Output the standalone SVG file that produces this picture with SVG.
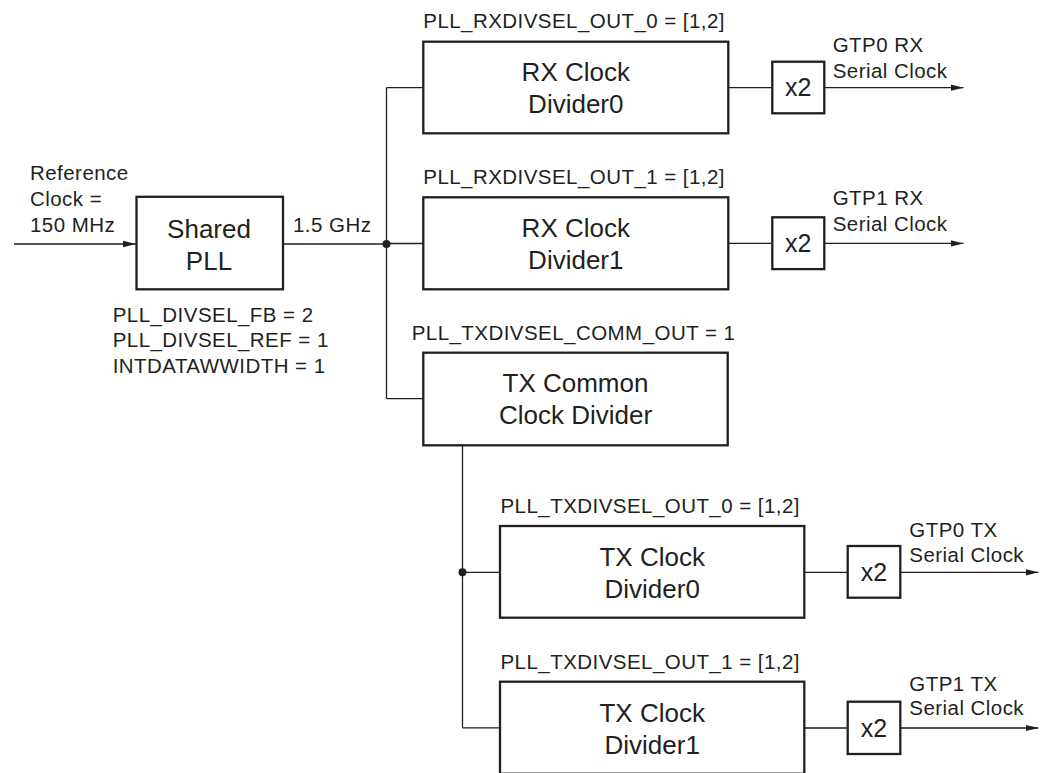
<svg xmlns="http://www.w3.org/2000/svg" width="1044" height="773" viewBox="0 0 1044 773">
<defs>
<style>
.box{fill:#fff;stroke:#231f20;stroke-width:2.3}
.ln{fill:none;stroke:#231f20;stroke-width:1.3}
.lbl{font-family:"Liberation Sans",Arial,sans-serif;font-size:20.5px;letter-spacing:0.45px;fill:#231f20}
.big{font-family:"Liberation Sans",Arial,sans-serif;font-size:26px;fill:#231f20;text-anchor:middle}
.mul{font-family:"Liberation Sans",Arial,sans-serif;font-size:25px;fill:#231f20;text-anchor:middle}
</style>
<marker id="arr" markerWidth="13" markerHeight="8" refX="13" refY="4" orient="auto" markerUnits="userSpaceOnUse">
<path d="M0,0.8 L13,4 L0,7.2 Z" fill="#231f20"/>
</marker>
</defs>
<rect width="1044" height="773" fill="#fff"/>

<g id="connectors">
<line class="ln" x1="14" y1="244" x2="136" y2="244" marker-end="url(#arr)"/>
<line class="ln" x1="283" y1="244" x2="386.5" y2="244"/>
<line class="ln" x1="386.5" y1="87.7" x2="386.5" y2="398.7"/>
<line class="ln" x1="386.5" y1="87.7" x2="423.3" y2="87.7"/>
<line class="ln" x1="386.5" y1="243.5" x2="423.3" y2="243.5"/>
<line class="ln" x1="386.5" y1="398.7" x2="423.3" y2="398.7"/>
<line class="ln" x1="728.3" y1="87.7" x2="772.3" y2="87.7"/>
<line class="ln" x1="824.3" y1="87.7" x2="963.5" y2="87.7" marker-end="url(#arr)"/>
<line class="ln" x1="728.3" y1="243.4" x2="772.3" y2="243.4"/>
<line class="ln" x1="824.3" y1="243.4" x2="963.5" y2="243.4" marker-end="url(#arr)"/>
<line class="ln" x1="462.5" y1="445.3" x2="462.5" y2="727.8"/>
<line class="ln" x1="462.5" y1="572.3" x2="500" y2="572.3"/>
<line class="ln" x1="462.5" y1="727.8" x2="500" y2="727.8"/>
<line class="ln" x1="804.3" y1="572.3" x2="847.7" y2="572.3"/>
<line class="ln" x1="900.3" y1="572.3" x2="1038.5" y2="572.3" marker-end="url(#arr)"/>
<line class="ln" x1="804.3" y1="728" x2="847.7" y2="728"/>
<line class="ln" x1="900.3" y1="728" x2="1038.5" y2="728" marker-end="url(#arr)"/>
<circle cx="386.5" cy="244" r="4" fill="#231f20"/>
<circle cx="462.5" cy="572.3" r="4" fill="#231f20"/>
</g>

<g id="refclk">
<text class="lbl" x="30" y="180">Reference</text>
<text class="lbl" x="30" y="205.5">Clock =</text>
<text class="lbl" x="30" y="231.5">150 MHz</text>
</g>

<g id="pll">
<rect class="box" x="136.5" y="196.8" width="146.5" height="92.5"/>
<text class="big" x="209" y="238.3">Shared</text>
<text class="big" x="209" y="270">PLL</text>
<text class="lbl" x="293" y="231.5">1.5 GHz</text>
<text class="lbl" x="112.7" y="322.3">PLL_DIVSEL_FB = 2</text>
<text class="lbl" x="112.7" y="347">PLL_DIVSEL_REF = 1</text>
<text class="lbl" x="112.7" y="372.5">INTDATAWWIDTH = 1</text>
</g>

<g id="rx0">
<text class="lbl" x="423.3" y="27.5">PLL_RXDIVSEL_OUT_0 = [1,2]</text>
<rect class="box" x="423.3" y="41.7" width="305" height="91.6"/>
<text class="big" x="575.8" y="81">RX Clock</text>
<text class="big" x="575.8" y="112.5">Divider0</text>
</g>
<g id="rx0x2">
<rect class="box" x="772.3" y="61.7" width="52" height="51.6"/>
<text class="mul" x="798.3" y="96">x2</text>
<text class="lbl" x="832.7" y="52.3">GTP0 RX</text>
<text class="lbl" x="832.7" y="78.3">Serial Clock</text>
</g>

<g id="rx1">
<text class="lbl" x="423.3" y="184">PLL_RXDIVSEL_OUT_1 = [1,2]</text>
<rect class="box" x="423.3" y="197.3" width="305" height="92"/>
<text class="big" x="575.8" y="237">RX Clock</text>
<text class="big" x="575.8" y="268.5">Divider1</text>
</g>
<g id="rx1x2">
<rect class="box" x="772.3" y="217.3" width="52" height="51.8"/>
<text class="mul" x="798.3" y="252">x2</text>
<text class="lbl" x="832.7" y="205">GTP1 RX</text>
<text class="lbl" x="832.7" y="230.7">Serial Clock</text>
</g>

<g id="txcommon">
<text class="lbl" x="411.7" y="340">PLL_TXDIVSEL_COMM_OUT = 1</text>
<rect class="box" x="423.3" y="352.7" width="304.4" height="92.6"/>
<text class="big" x="575.5" y="392">TX Common</text>
<text class="big" x="575.5" y="424.3">Clock Divider</text>
</g>

<g id="tx0">
<text class="lbl" x="500.5" y="513.3">PLL_TXDIVSEL_OUT_0 = [1,2]</text>
<rect class="box" x="500" y="526" width="304.3" height="91.7"/>
<text class="big" x="652.2" y="566">TX Clock</text>
<text class="big" x="652.2" y="597.5">Divider0</text>
</g>
<g id="tx0x2">
<rect class="box" x="847.7" y="546" width="52.6" height="51.7"/>
<text class="mul" x="874" y="580.5">x2</text>
<text class="lbl" x="909.3" y="536.7">GTP0 TX</text>
<text class="lbl" x="909.3" y="561.7">Serial Clock</text>
</g>

<g id="tx1">
<text class="lbl" x="500.5" y="669.3">PLL_TXDIVSEL_OUT_1 = [1,2]</text>
<rect class="box" x="500" y="681.7" width="304.3" height="92"/>
<text class="big" x="652.2" y="722.3">TX Clock</text>
<text class="big" x="652.2" y="753.5">Divider1</text>
</g>
<g id="tx1x2">
<rect class="box" x="847.7" y="701.7" width="52.6" height="52.3"/>
<text class="mul" x="874" y="736.5">x2</text>
<text class="lbl" x="909.3" y="690.7">GTP1 TX</text>
<text class="lbl" x="909.3" y="715">Serial Clock</text>
</g>
</svg>
